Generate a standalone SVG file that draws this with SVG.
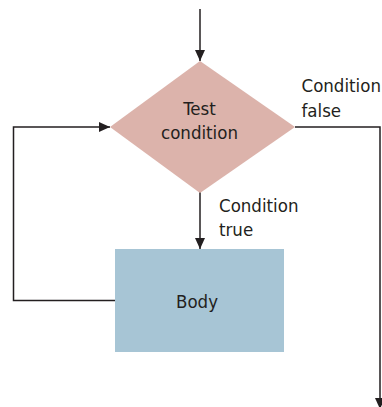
<svg xmlns="http://www.w3.org/2000/svg" width="382" height="407" viewBox="0 0 382 407">
<style>
.lbl{font-family:"DejaVu Sans Condensed","Liberation Sans",Arial,sans-serif;font-size:18.5px;fill:#231f20}
.edge{fill:none;stroke:#231f20;stroke-width:1.5}
</style>
<defs>
<marker id="ah" markerUnits="userSpaceOnUse" markerWidth="12" markerHeight="10" refX="11" refY="5" orient="auto">
<path d="M0,0 L11,5 L0,10 z" fill="#231f20"/>
</marker>
</defs>
<rect width="382" height="407" fill="#ffffff"/>
<g id="connectors">
<path class="edge" d="M200,9 V61" marker-end="url(#ah)"/>
<path class="edge" d="M200,192 V249" marker-end="url(#ah)"/>
<path class="edge" d="M115,300.5 H13.5 V127 H110" marker-end="url(#ah)"/>
<path class="edge" d="M295,127 H380 V409" marker-end="url(#ah)"/>
</g>
<g id="test">
<polygon points="200,61 295,127 200,193 110,127" fill="#dcb3ab"/>
<text class="lbl" x="199.5" y="115" text-anchor="middle">Test</text>
<text class="lbl" x="199.5" y="138.5" text-anchor="middle">condition</text>
</g>
<g id="body">
<rect x="115" y="249" width="169" height="103" fill="#a7c5d5"/>
<text class="lbl" x="197" y="308" text-anchor="middle">Body</text>
</g>
<g id="label-false">
<text class="lbl" x="301.5" y="92">Condition</text>
<text class="lbl" x="301.5" y="116.5">false</text>
</g>
<g id="label-true">
<text class="lbl" x="219" y="211.5">Condition</text>
<text class="lbl" x="219" y="235.5">true</text>
</g>
</svg>
